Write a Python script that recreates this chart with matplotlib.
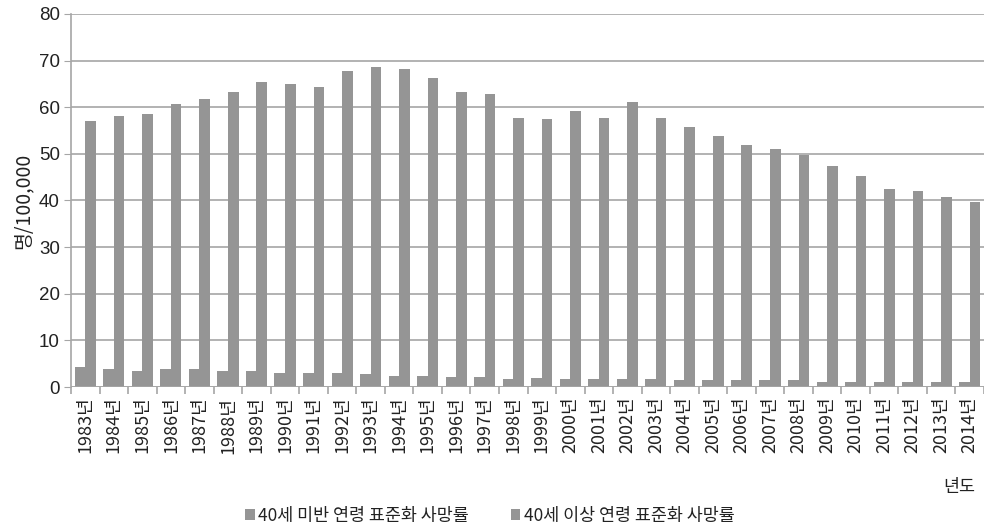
import matplotlib.pyplot as plt
from matplotlib import font_manager
import numpy as np

plt.rcParams['font.family'] = ['Noto Sans CJK KR', 'DejaVu Sans']

years = [str(y) + '년' for y in range(1983, 2015)]

# age-standardized death rate, under 40
rate_under40 = [4.2, 3.9, 3.5, 3.9, 3.9, 3.5, 3.5, 3.1, 3.1, 3.1,
                2.7, 2.4, 2.4, 2.1, 2.1, 1.7, 2.0, 1.7, 1.7, 1.7,
                1.8, 1.4, 1.4, 1.4, 1.4, 1.4, 1.0, 1.0, 1.0, 1.0,
                1.0, 1.0]

# age-standardized death rate, 40 and over
rate_over40 = [57.1, 58.2, 58.6, 60.7, 61.8, 63.2, 65.4, 65.0, 64.3, 67.8,
               68.6, 68.2, 66.3, 63.2, 62.8, 57.8, 57.5, 59.2, 57.8, 61.1,
               57.8, 55.7, 53.9, 51.8, 51.0, 49.8, 47.5, 45.3, 42.5, 42.1,
               40.7, 39.6]

series_names = ['40세 미반 연령 표준화 사망률', '40세 이상 연령 표준화 사망률']

bar_color = '#959595'
grid_color = '#a6a6a6'
text_color = '#222222'

# narrow face for the y tick numbers, if present
installed = {f.name for f in font_manager.fontManager.ttflist}
ytick_font = 'Liberation Sans Narrow' if 'Liberation Sans Narrow' in installed else 'Liberation Sans'

fig = plt.figure(figsize=(9.84, 5.30), dpi=100)
ax = fig.add_axes([0.0722, 0.2698, 0.9278, 0.7038])

x = np.arange(len(years))
w = 0.37
b1 = ax.bar(x - w / 2, rate_under40, width=w, color=bar_color, label=series_names[0])
b2 = ax.bar(x + w / 2, rate_over40, width=w, color=bar_color, label=series_names[1])

ax.set_xlim(-0.5, len(years) - 0.5)
ax.set_ylim(0, 80)
ax.set_yticks(range(0, 81, 10))
ax.yaxis.grid(True, color=grid_color, linewidth=1.2)
ax.set_axisbelow(True)

for s in ['top', 'right', 'bottom']:
    ax.spines[s].set_visible(False)
ax.spines['left'].set_color(grid_color)
ax.spines['left'].set_linewidth(1.2)
ax.axhline(0, color=grid_color, linewidth=1.2, zorder=3)

ax.tick_params(axis='y', length=5, color=grid_color, labelsize=13.5, pad=3,
               labelcolor=text_color)
for lbl in ax.get_yticklabels():
    lbl.set_family(ytick_font)

# labels at category centers, tick marks at category boundaries
ax.set_xticks(x)
ax.set_xticklabels(years, rotation=90, fontsize=13, color=text_color)
ax.tick_params(axis='x', which='major', length=0, pad=7)
ax.set_xticks(np.arange(-0.5, len(years), 1.0), minor=True)
ax.tick_params(axis='x', which='minor', length=5, color=grid_color, width=1.2)

ax.set_ylabel('명/100,000', fontsize=14, color=text_color, labelpad=4)

fig.text(0.975, 0.081, '년도', fontsize=12.5, ha='center', va='center', color=text_color)

fig.legend(handles=[b1, b2], loc='center', bbox_to_anchor=(0.498, 0.027), ncol=2,
           frameon=False, fontsize=12.5, handlelength=0.55, handleheight=0.55,
           handletextpad=0.2, columnspacing=2.4, labelcolor=text_color)

fig.savefig('out.png', dpi=100)
